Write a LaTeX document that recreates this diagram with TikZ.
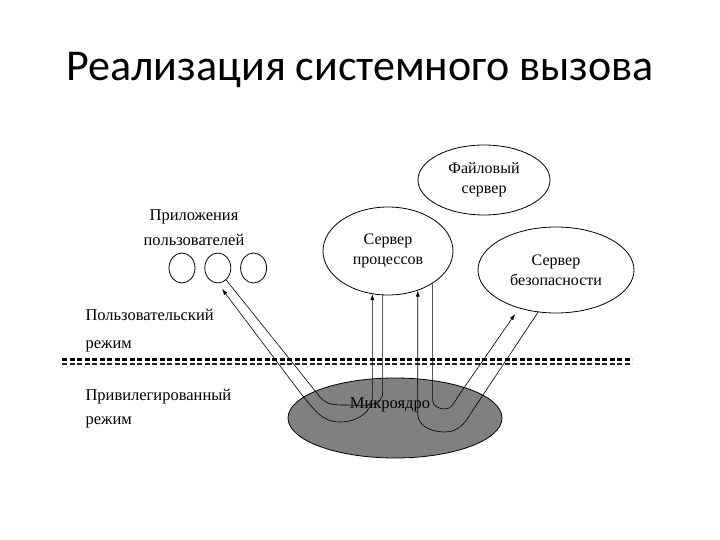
\documentclass[tikz,border=0pt]{standalone}
\usepackage{fontspec}
\setmainfont{Liberation Serif}
\newfontfamily\titlefont{Carlito}
\usetikzlibrary{shapes.geometric,arrows.meta,positioning}
\definecolor{kernelgray}{RGB}{128,128,128}

\begin{document}
\begin{tikzpicture}[x=1pt, y=1pt,
  server/.style={ellipse, draw=black, line width=0.8pt, align=center,
                 inner sep=0pt, font=\fontsize{16}{20}\selectfont},
  app/.style={ellipse, draw=black, line width=0.8pt,
              minimum width=26pt, minimum height=30pt},
  modelabel/.style={anchor=west, align=left},
  flow/.style={line width=0.6pt},
  >={Latex[length=6pt,width=4pt]}
]
  \useasboundingbox (0,0) rectangle (720,-540);

  % Title
  \node[font=\titlefont\fontsize{44}{48}\selectfont] (title) at (360,-70)
    {Реализация системного вызова};

  % Servers
  \node[server, minimum width=132pt, minimum height=70pt] (filesrv)
    at (484,-180) {Файловый\\сервер};
  \node[server, minimum width=130pt, minimum height=88pt] (proc)
    at (388,-251) {Сервер\\процессов};
  \node[server, minimum width=156pt, minimum height=86pt] (sec)
    at (556,-270) {Сервер\\безопасности};

  % User applications
  \node[app] (app1) at (182,-268) {};
  \node[app, right=9pt of app1] (app2) {};
  \node[app, right=9pt of app2] (app3) {};
  \node[align=center, font=\fontsize{16.5}{25}\selectfont] (apps)
    at (194,-227.5) {Приложения\\пользователей};

  % Modes
  \node[modelabel, font=\fontsize{16.5}{28}\selectfont] (usermode)
    at (82,-331) {Пользовательский\\режим};
  \node[modelabel, font=\fontsize{16.5}{24}\selectfont] (privmode)
    at (82,-408.5) {Привилегированный\\режим};
  \draw[line width=2.2pt, dash pattern=on 5pt off 2.5pt] (62,-359.5) -- (632,-359.5);
  \draw[line width=2pt, black!85, dash pattern=on 5pt off 2.5pt] (62,-364) -- (632,-364);

  % Microkernel
  \node[ellipse, draw=black, line width=0.8pt, fill=kernelgray,
        minimum width=214pt, minimum height=80pt] (kernel) at (395,-418) {};

  % Bend points inside the kernel
  \coordinate (lo1) at (372,-397);
  \coordinate (lo2) at (340,-422);
  \coordinate (lo3) at (302,-395);
  \coordinate (li1) at (320,-397);
  \coordinate (li2) at (345,-405);
  \coordinate (li3) at (383,-393);
  \coordinate (ri1) at (432,-400);
  \coordinate (ri2) at (445,-409);
  \coordinate (ri3) at (457,-398);
  \coordinate (ro1) at (471,-413);
  \coordinate (ro2) at (445,-432);
  \coordinate (ro3) at (418,-414);

  % Applications <-> process server
  \draw[flow, <->, shorten <=7pt] (app2.south) -- (lo3)
    to[out=-50, in=180] (lo2) to[out=0, in=-90] (proc.250 |- lo1) -- (proc.250);
  \draw[flow] (app2.-55) -- (li1)
    to[out=-50, in=180] (li2) to[out=0, in=-90] (proc.263 |- li3) -- (proc.263);

  % Process server <-> security server
  \draw[flow, ->, shorten >=7pt] (proc.324) -- (proc.324 |- ri1)
    to[out=-90, in=180] (ri2) to[out=0, in=-120] (ri3) -- (sec.226);
  \draw[flow, ->] (sec.247) -- (ro1)
    to[out=-120, in=0] (ro2) to[out=180, in=-90] (proc.307 |- ro3) -- (proc.307);

  \node[font=\fontsize{16.5}{18}\selectfont] (ktext) at (390,-405) {Микроядро};
\end{tikzpicture}
\end{document}
